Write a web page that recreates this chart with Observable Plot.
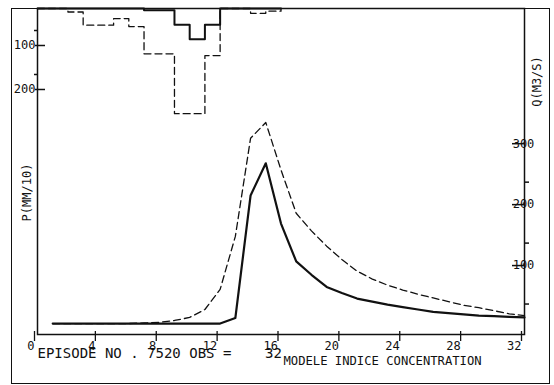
<!DOCTYPE html>
<html>
<head>
<meta charset="utf-8">
<script src="https://cdn.jsdelivr.net/npm/d3@7"></script>
<script src="https://cdn.jsdelivr.net/npm/@observablehq/plot@0.6"></script>
<style>
  html, body { margin: 0; padding: 0; background: white; }
</style>
</head>
<body>
<div id="chart"></div>
<script>
// ---- data ----
const hydroHours = [1,2,3,4,5,6,7,8,9,10,11,12,13,14,15,16,17,18,19,20,21,22,23,24,25,26,27,28,29,30,31,32];
const qObserved  = [18,18,18,18,18,18,18,18,18,18,18,18,27,228,281,182,120,98,78,68,59,54,49,45,41,37,35,33,31,30,29,28];
const qModel     = [18,18,18,18,18,18,19,20,23,28,41,74,161,322,348,270,199,170,145,123,104,91,81,73,66,60,54,48,44,39,34,31];

const rainHours    = [0,1,2,3,4,5,6,7,8,9,10,11,12,13,14,15,16];
const rainObserved = [0,0,0,0,0,0,0,4,4,37,70,37,0,0,0,0,0];
const rainModel    = [0,0,8,38,38,23,41,103,103,239,239,107,0,0,11,6,0];

const xTicks = [0,4,8,12,16,20,24,28,32];
const qTicks = [100,200,300];
const qMinorTicks = [50,150,250];
const pTicks = [100,200];
const pMinorTicks = [50,150];

const episodeLabel = ["EPISODE NO . 7520 OBS =    32"];
const modelLabel = ["MODELE INDICE CONCENTRATION"];
const pTitle = ["P(MM/10)"];
const qTitle = ["Q(M3/S)"];

// ---- scale ranges (discharge at the top of the frame, rainfall at its bottom; rainfall axis hangs from the top) ----
const Q_TOP = 535;
const P_BOTTOM = 741;
const pToQ = p => Q_TOP - p * Q_TOP / P_BOTTOM;
const qToP = q => (Q_TOP - q) * P_BOTTOM / Q_TOP;

const hydro = hydroHours.map((t, i) => ({t, obs: qObserved[i], mod: qModel[i]}));
const rain = rainHours.map((t, i) => ({t, obs: rainObserved[i], mod: rainModel[i]}));

const ink = "#111";

const chart = Plot.plot({
  width: 554,
  height: 385,
  marginTop: 8,
  marginBottom: 51,
  marginLeft: 37,
  marginRight: 30,
  x: {domain: [0, 32]},
  y: {domain: [0, Q_TOP]},
  style: {fontFamily: "DejaVu Sans Mono", fontSize: "12px", color: ink, background: "white", overflow: "visible"},
  marks: [
    // outer border of the sheet
    Plot.frame({stroke: ink, strokeWidth: 1, insetLeft: -26, insetRight: -25, insetBottom: -49}),
    // plot frame
    Plot.frame({stroke: ink, strokeWidth: 1.5}),
    // bottom axis
    Plot.axisX({ticks: xTicks, tickSize: 10, tickPadding: 0, tickFormat: d => d, textAnchor: "end", dx: -3, dy: -3, label: null, strokeWidth: 1.3, fontSize: 12}),
    // right axis (discharge)
    Plot.axisY({anchor: "right", ticks: qTicks, tickSize: 12, tickPadding: 0, tickFormat: d => d, textAnchor: "middle", dx: -13, dy: -8, label: null, strokeWidth: 1.5, fontSize: 12}),
    Plot.axisY({anchor: "right", ticks: qMinorTicks, tickSize: 4, tickFormat: () => "", label: null, strokeWidth: 1.5}),
    // left axis (rainfall, downward from the top)
    Plot.axisY({anchor: "left", ticks: pTicks.map(pToQ), tickSize: 10, tickPadding: 0, tickFormat: q => Math.round(qToP(q)), textAnchor: "end", dx: 8, dy: -7, label: null, strokeWidth: 1.5, fontSize: 12}),
    Plot.axisY({anchor: "left", ticks: pMinorTicks.map(pToQ), tickSize: 3, tickFormat: () => "", label: null, strokeWidth: 1.5}),
    // hyetographs
    Plot.line(rain, {x: "t", y: d => pToQ(d.mod), curve: "step-after", stroke: ink, strokeWidth: 1.3, strokeDasharray: "7,4"}),
    Plot.line(rain, {x: "t", y: d => pToQ(d.obs), curve: "step-after", stroke: ink, strokeWidth: 2}),
    // hydrographs
    Plot.line(hydro, {x: "t", y: "mod", stroke: ink, strokeWidth: 1.3, strokeDasharray: "7,4"}),
    Plot.line(hydro, {x: "t", y: "obs", stroke: ink, strokeWidth: 2.2}),
    // titles
    Plot.text(pTitle, {text: d => d, frameAnchor: "left", textAnchor: "middle", lineAnchor: "middle", rotate: -90, dx: -10, dy: 21, fontSize: 12, fill: ink}),
    Plot.text(qTitle, {text: d => d, frameAnchor: "top-right", textAnchor: "middle", lineAnchor: "middle", rotate: -90, dx: 13, dy: 73, fontSize: 12, fill: ink}),
    Plot.text(episodeLabel, {text: d => d, frameAnchor: "bottom-left", textAnchor: "start", lineAnchor: "middle", dx: 0, dy: 19, fontSize: 14, fill: ink}),
    Plot.text(modelLabel, {text: d => d, frameAnchor: "bottom-left", textAnchor: "start", lineAnchor: "middle", dx: 246, dy: 27, fontSize: 12.2, fill: ink})
  ]
});

document.getElementById("chart").appendChild(chart);
</script>
</body>
</html>
